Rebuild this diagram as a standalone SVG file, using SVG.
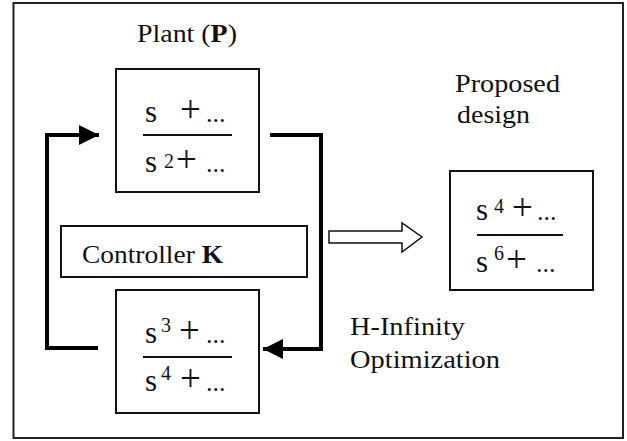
<svg xmlns="http://www.w3.org/2000/svg" width="627" height="441" viewBox="0 0 627 441" font-family="'Liberation Serif', 'Times New Roman', Times, serif">
<style>
text{fill:#111;}
.t{font-size:26px;}
.s{font-size:31px;}
.p{font-size:37px;}
.d{font-size:26px;}
.sup{font-size:20px;}
.box{fill:#fff;stroke:#111;stroke-width:2;}
.frac{stroke:#111;stroke-width:2;}
.conn{fill:none;stroke:#000;stroke-width:4;}
</style>
<defs>
<marker id="ah" markerUnits="userSpaceOnUse" markerWidth="22" markerHeight="22" refX="20" refY="10" orient="auto" viewBox="0 0 22 22">
<polygon points="0,0 20,10 0,20" fill="#000"/>
</marker>
</defs>
<rect x="13.5" y="3" width="609.5" height="435" fill="#fff" stroke="#222" stroke-width="2"/>
<g id="connectors">
<path class="conn" d="M98,348 H47 V135 H99" marker-end="url(#ah)"/>
<path class="conn" d="M270,135 H321 V349 H263" marker-end="url(#ah)"/>
<polygon points="329,231 402,231 402,223 422,237 402,252 402,243 329,243" fill="#fff" stroke="#111" stroke-width="1.5"/>
</g>
<g id="plant-label">
<text class="t" x="137" y="42" textLength="100" lengthAdjust="spacingAndGlyphs">Plant (<tspan font-weight="bold">P</tspan>)</text>
</g>
<g id="plant">
<rect class="box" x="116" y="69" width="143" height="123"/>
<text class="s" x="145" y="122">s</text>
<text class="p" x="180" y="122">+</text>
<text class="d" x="206" y="122">...</text>
<line class="frac" x1="143" y1="135" x2="232" y2="135"/>
<text class="s" x="145" y="172">s</text>
<text class="sup" x="164" y="168">2</text>
<text class="p" x="176" y="172">+</text>
<text class="d" x="206" y="172">...</text>
</g>
<g id="controller-label">
<rect class="box" x="61" y="226" width="246" height="51"/>
<text class="t" x="82" y="263" textLength="141" lengthAdjust="spacingAndGlyphs">Controller <tspan font-weight="bold">K</tspan></text>
</g>
<g id="controller">
<rect class="box" x="116" y="290" width="143" height="123"/>
<text class="s" x="145" y="343">s</text>
<text class="sup" x="161" y="332">3</text>
<text class="p" x="179" y="343">+</text>
<text class="d" x="206" y="343">...</text>
<line class="frac" x1="143" y1="357" x2="232" y2="357"/>
<text class="s" x="145" y="391">s</text>
<text class="sup" x="161" y="380">4</text>
<text class="p" x="180" y="391">+</text>
<text class="d" x="206" y="391">...</text>
</g>
<g id="proposed-label">
<text class="t" x="455" y="92" textLength="105" lengthAdjust="spacingAndGlyphs">Proposed</text>
<text class="t" x="457" y="123" textLength="73" lengthAdjust="spacingAndGlyphs">design</text>
</g>
<g id="proposed">
<rect class="box" x="450" y="171" width="143" height="119"/>
<text class="s" x="476" y="220">s</text>
<text class="sup" x="494" y="213">4</text>
<text class="p" x="512" y="220">+</text>
<text class="d" x="537" y="220">...</text>
<line class="frac" x1="477" y1="235" x2="563" y2="235"/>
<text class="s" x="476" y="272">s</text>
<text class="sup" x="494" y="260">6</text>
<text class="p" x="506" y="272">+</text>
<text class="d" x="536" y="272">...</text>
</g>
<g id="hinf-label">
<text class="t" x="350" y="335" textLength="115" lengthAdjust="spacingAndGlyphs">H-Infinity</text>
<text class="t" x="350" y="368" textLength="150" lengthAdjust="spacingAndGlyphs">Optimization</text>
</g>
</svg>
